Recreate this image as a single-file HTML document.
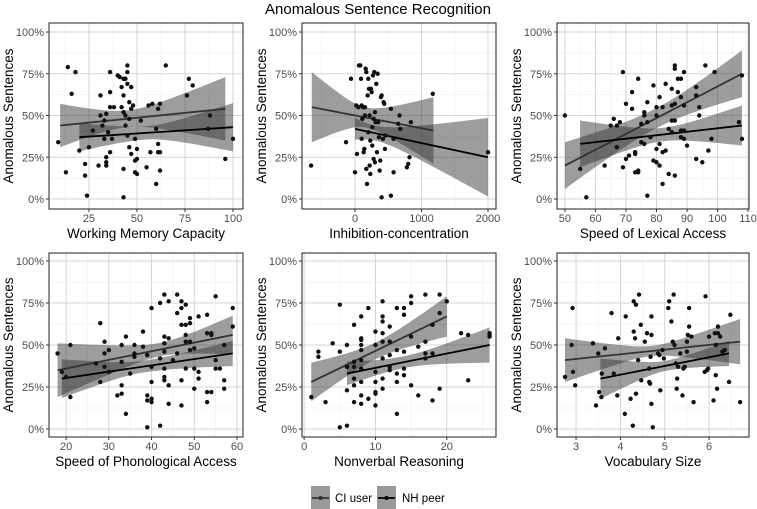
<!DOCTYPE html>
<html><head><meta charset="utf-8"><style>
html,body{margin:0;padding:0;background:#fff;}
svg{display:block;font-family:"Liberation Sans",Arial,sans-serif;}
</style></head><body>
<svg id="chart" width="757" height="509" viewBox="0 0 757 509" xmlns="http://www.w3.org/2000/svg">
<text x="378" y="14" text-anchor="middle" font-size="15" fill="#000">Anomalous Sentence Recognition</text>
<g id="panels"></g>
<g>
 <g>
  <rect x="311" y="486" width="19" height="24" fill="#999"/>
  <line x1="312" y1="498" x2="329" y2="498" stroke="#333" stroke-width="1.8"/>
  <circle cx="320.5" cy="498" r="2" fill="#333"/>
  <text x="335" y="502" font-size="11.5" fill="#000">CI user</text>
 </g>
 <g>
  <rect x="377" y="486" width="19" height="24" fill="#999"/>
  <line x1="378" y1="498" x2="395" y2="498" stroke="#000" stroke-width="1.8"/>
  <circle cx="386.5" cy="498" r="2" fill="#000"/>
  <text x="402" y="502" font-size="11.5" fill="#000">NH peer</text>
 </g>
</g>
</svg>
<script>
// ---- data ----
const panelTitles = ["Working Memory Capacity","Inhibition-concentration","Speed of Lexical Access","Speed of Phonological Access","Nonverbal Reasoning","Vocabulary Size"];
const xDomains = [[4.2,105.2],[-797,2120],[47.4,110.3],[16.0,61.4],[-0.3,26.9],[2.57,6.9]];
const xTicks = [[25,50,75,100],[0,1000,2000],[50,60,70,80,90,100,110],[20,30,40,50,60],[0,10,20],[3,4,5,6]];
const yTicks = [0,25,50,75,100];
const yTickLabels = ["0%","25%","50%","75%","100%"];
// lines: [x0,y0,x1,y1] ; bands: [xMid, halfWidthStart, halfWidthMid, halfWidthEnd]
const ciLines = [[10,44,96,54],[-650,55,1180,41],[50,20,108,75],[18,35,59,56],[1,28,20,67],[2.75,41,6.7,52]];
const ciBands = [[45,13,5,19],[150,21,6,20],[80,14,6,14],[42,16,4,11.5],[10,11.5,5,12],[4.7,13,3,13.5]];
const nhLines = [[20,37,100,43],[0,42,2000,25],[55,33,108,44],[19,30,59,45],[6,33,26,50],[3.55,30,6.45,45]];
const nhBands = [[55,8.5,4,14.5],[300,6.5,4.5,23.5],[82,14,4,12],[38,11.5,3.5,7.5],[14,7,3.5,10.5],[5,12,3,7.5]];
const p1Points=[[9,34],[13,16],[14,79],[16,63],[18,76],[20,29],[23,14],[23,21],[24,2],[25,31],[27,41],[30,20],[31,62],[31,50],[32,44],[33,36],[33,47],[34,25],[34,20],[34,22],[34,51],[35,40],[36,76],[36,64],[36,28],[36,55],[37,36],[38,55],[40,74],[41,73],[42,55],[42,67],[43,72],[43,62],[43,52],[43,18],[43,1],[44,72],[44,44],[44,50],[45,80],[45,76],[45,69],[45,38],[46,58],[46,31],[46,48],[47,67],[47,27],[47,54],[48,56],[49,36],[49,23],[49,16],[50,24],[50,15],[50,30],[52,47],[55,19],[56,56],[57,28],[58,57],[60,42],[60,9],[61,33],[61,28],[62,28],[62,17],[61,54],[62,57],[65,80],[76,62],[77,72],[79,68],[87,42],[88,50],[96,24],[100,36]];
const p2Points=[[-660,20],[-135,34],[-60,72],[0,16],[20,56],[30,27],[60,80],[80,80],[90,72],[100,56],[100,36],[110,48],[120,55],[130,28],[140,30],[150,55],[160,78],[170,76],[170,18],[180,9],[190,62],[200,72],[210,66],[220,50],[220,20],[230,35],[230,15],[240,66],[250,64],[260,43],[260,32],[270,74],[280,24],[290,76],[300,22],[310,46],[320,69],[330,28],[340,75],[360,37],[370,17],[380,23],[390,61],[400,62],[400,1],[420,36],[430,58],[440,57],[450,30],[460,38],[540,54],[540,2],[580,16],[580,36],[650,45],[670,50],[680,42],[780,19],[800,21],[820,25],[840,46],[1170,63],[2000,28],[50,55],[150,50],[200,40],[280,48],[300,52],[350,46]];
const p3Points=[[50,50],[55,18],[57,1],[63,20],[65,44],[66,48],[67,31],[67,44],[68,46],[69,19],[69,76],[70,57],[70,24],[71,26],[72,54],[72,64],[73,16],[73,27],[73,28],[74,72],[74,16],[74,17],[75,45],[75,34],[76,52],[76,50],[76,33],[77,58],[77,46],[77,2],[78,37],[79,68],[79,23],[80,22],[80,55],[80,30],[80,50],[81,20],[81,61],[81,33],[82,55],[82,28],[82,9],[83,69],[83,29],[84,42],[84,15],[85,66],[85,56],[85,47],[85,40],[86,80],[86,78],[86,57],[86,14],[86,47],[87,72],[87,64],[88,72],[88,61],[88,41],[88,37],[89,76],[89,56],[89,36],[89,41],[90,32],[93,62],[93,67],[93,24],[94,55],[94,50],[95,22],[96,80],[97,29],[98,36],[99,76],[107,46],[108,74],[108,36]];
const p4Points=[[18,45],[19,34],[20,31],[21,19],[21,50],[27,39],[28,63],[28,28],[29,52],[29,45],[29,37],[30,47],[30,34],[32,20],[33,50],[33,40],[33,26],[33,21],[34,55],[34,9],[35,33],[36,50],[36,45],[36,43],[38,58],[38,49],[39,44],[39,20],[39,17],[39,1],[40,72],[40,37],[40,28],[40,18],[40,16],[42,75],[42,42],[42,2],[43,80],[43,55],[43,51],[43,46],[43,36],[43,31],[43,29],[44,76],[44,54],[44,26],[44,15],[45,41],[46,80],[46,69],[46,45],[47,76],[47,72],[47,62],[47,29],[47,14],[48,74],[48,62],[48,56],[48,52],[48,36],[49,66],[49,63],[49,52],[49,47],[50,48],[50,36],[50,24],[51,67],[51,34],[51,30],[53,68],[53,57],[53,22],[53,16],[54,57],[54,56],[54,22],[55,79],[55,41],[55,36],[56,36],[57,29],[57,24],[57,50],[59,72],[59,61]];
const p5Points=[[1,19],[2,46],[2,43],[3,16],[4,51],[5,74],[5,46],[5,1],[6,50],[6,37],[6,23],[6,2],[7,62],[7,40],[7,37],[7,30],[7,26],[7,16],[8,67],[8,54],[8,53],[8,50],[8,47],[8,41],[8,36],[8,28],[8,20],[8,15],[9,72],[9,18],[10,58],[10,50],[10,34],[10,28],[10,22],[10,21],[10,14],[11,76],[11,67],[11,64],[11,57],[11,52],[11,42],[11,30],[11,24],[12,61],[12,52],[12,44],[12,37],[12,35],[13,72],[13,47],[13,33],[13,28],[13,9],[14,72],[14,68],[14,46],[14,36],[14,32],[15,79],[15,75],[15,55],[15,26],[16,49],[16,20],[17,80],[17,52],[17,45],[17,42],[18,62],[18,45],[18,17],[19,80],[19,69],[19,24],[20,76],[22,57],[23,56],[23,29],[26,57],[26,56],[26,55]];
const p6Points=[[2.75,31],[2.9,50],[2.92,72],[2.93,34],[2.98,26],[3.38,51],[3.45,14],[3.5,45],[3.52,22],[3.57,19],[3.58,33],[3.65,48],[3.8,69],[3.85,33],[3.93,20],[3.95,54],[4.1,9],[4.12,67],[4.23,18],[4.28,2],[4.3,76],[4.3,58],[4.33,54],[4.35,74],[4.35,21],[4.4,41],[4.42,80],[4.46,62],[4.47,29],[4.55,52],[4.6,57],[4.65,36],[4.65,28],[4.67,27],[4.68,43],[4.7,56],[4.7,67],[4.7,15],[4.73,1],[4.85,45],[4.88,44],[4.9,23],[4.95,47],[4.98,42],[5.08,72],[5.1,76],[5.15,64],[5.18,52],[5.2,80],[5.22,50],[5.25,39],[5.27,24],[5.28,30],[5.3,37],[5.35,45],[5.4,20],[5.42,36],[5.45,37],[5.5,46],[5.5,52],[5.52,56],[5.55,61],[5.55,72],[5.6,55],[5.65,16],[5.9,34],[5.92,79],[5.95,35],[5.98,36],[6.0,55],[6.1,17],[6.13,57],[6.15,32],[6.15,50],[6.18,24],[6.2,57],[6.2,61],[6.25,55],[6.3,46],[6.35,47],[6.45,28],[6.48,68],[6.7,16]];
const allPoints=[p1Points,p2Points,p3Points,p4Points,p5Points,p6Points];

// ---- layout ----
const colX=[[49,243],[302,496],[557,749]];
const rowY=[{top:23,bot:209,y100:32,y0:199},{top:253,bot:437,y100:261,y0:429}];
const NS="http://www.w3.org/2000/svg";
const root=document.getElementById('panels');
function mk(tag,attrs,parent){const e=document.createElementNS(NS,tag);for(const k in attrs)e.setAttribute(k,attrs[k]);parent.appendChild(e);return e;}

for(let p=0;p<6;p++){
  const c=colX[p%3], r=rowY[Math.floor(p/3)];
  const [d0,d1]=xDomains[p];
  const sx=v=>c[0]+(v-d0)/(d1-d0)*(c[1]-c[0]);
  const sy=v=>r.y0+(v/100)*(r.y100-r.y0);
  const g=mk('g',{},root);
  
  
  const cid='clip'+p;
  const cp=mk('clipPath',{id:cid},g);
  mk('rect',{x:c[0],y:r.top,width:c[1]-c[0],height:r.bot-r.top},cp);
  const xt=xTicks[p], step=xt[1]-xt[0];
  const grid=mk('g',{'clip-path':'url(#'+cid+')'},g);
  
  
  for(let v=xt[0]-step*1.5;v<=d1;v+=step){ if(v>=d0){const X=sx(v);mk('line',{x1:X,x2:X,y1:r.top,y2:r.bot,stroke:'#ececec','stroke-width':0.6},grid);} }
  for(let v=12.5;v<=100;v+=25){const Y=sy(v);mk('line',{x1:c[0],x2:c[1],y1:Y,y2:Y,stroke:'#ececec','stroke-width':0.6},grid);}
  xt.forEach(v=>{const X=sx(v);mk('line',{x1:X,x2:X,y1:r.top,y2:r.bot,stroke:'#d6d6d6','stroke-width':1},grid);});
  yTicks.forEach(v=>{const Y=sy(v);mk('line',{x1:c[0],x2:c[1],y1:Y,y2:Y,stroke:'#d6d6d6','stroke-width':1},grid);});
  const series=[[ciLines[p],ciBands[p],'#333','ci-user'],[nhLines[p],nhBands[p],'#000','nh-peer']];
  series.forEach(([L,B,col,nm])=>{
    const [x0,y0,x1,y1]=L, [xm,h0,hm,h1]=B;
    const lineY=x=>y0+(y1-y0)*(x-x0)/(x1-x0);
    const hw=x=>{const e=x<xm?x0:x1, he=x<xm?h0:h1; const t=(x-xm)/((e-xm)||1); return Math.sqrt(hm*hm+(he*he-hm*hm)*t*t);};
    const up=[],lo=[];
    for(let i=0;i<=40;i++){const x=x0+(x1-x0)*i/40;up.push(sx(x)+','+sy(lineY(x)+hw(x)));lo.unshift(sx(x)+','+sy(lineY(x)-hw(x)));}
    const band=mk('polygon',{points:up.concat(lo).join(' '),fill:'#333','fill-opacity':0.48},g);
    
    
    const ln=mk('line',{x1:sx(x0),y1:sy(y0),x2:sx(x1),y2:sy(y1),stroke:col,'stroke-width':1.8},g);
    
    
  });
  allPoints[p].forEach(pt=>{
    const dot=mk('circle',{cx:sx(pt[0]),cy:sy(pt[1]),r:2.2,fill:'#111'},g);
    
    
  });
  mk('rect',{x:c[0],y:r.top,width:c[1]-c[0],height:r.bot-r.top,fill:'none',stroke:'#333','stroke-width':1.1},g);
  xt.forEach(v=>{const X=sx(v);mk('line',{x1:X,x2:X,y1:r.bot,y2:r.bot+3,stroke:'#333'},g);
    const t=mk('text',{x:X,y:r.bot+13,'text-anchor':'middle','font-size':11,fill:'#4d4d4d'},g);t.textContent=v;
    
    });
  yTicks.forEach((v,i)=>{const Y=sy(v);mk('line',{x1:c[0]-3,x2:c[0],y1:Y,y2:Y,stroke:'#333'},g);
    const t=mk('text',{x:c[0]-5,y:Y+4,'text-anchor':'end','font-size':11,fill:'#4d4d4d'},g);t.textContent=yTickLabels[i];
    
    });
  const xt2=mk('text',{x:(c[0]+c[1])/2,y:r.bot+29,'text-anchor':'middle','font-size':13.5,fill:'#000'},g);
  xt2.textContent=panelTitles[p];
  
  
  const yc=(r.top+r.bot)/2, yx=c[0]-36;
  const yt=mk('text',{x:yx,y:yc,'text-anchor':'middle','font-size':13.5,fill:'#000',transform:'rotate(-90 '+yx+' '+yc+')'},g);
  yt.textContent='Anomalous Sentences';
  
  
}
</script>
</body></html>
